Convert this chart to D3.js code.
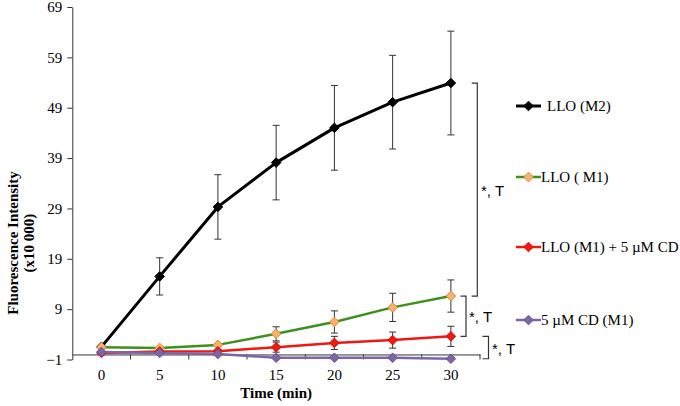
<!DOCTYPE html>
<html>
<head>
<meta charset="utf-8">
<script src="https://cdn.jsdelivr.net/npm/d3@7"></script>
<style>
  body { margin: 0; background: #fff; }
  svg { display: block; }
</style>
</head>
<body>
<div id="chart"></div>
<script>
// values (x10 000)
var times = [0, 5, 10, 15, 20, 25, 30];
var yTicks = [-1, 9, 19, 29, 39, 49, 59, 69];
var lloM2 = [1.5, 15.5, 29.3, 38.1, 45.0, 50.1, 53.9];
var lloM2Err = [0, 3.7, 6.4, 7.4, 8.4, 9.3, 10.3];
var lloM1 = [1.45, 1.3, 1.9, 4.1, 6.45, 9.35, 11.6];
var lloM1Err = [0.2, 0.2, 0.2, 1.4, 2.2, 2.8, 3.2];
var lloM1Cd = [0.3, 0.6, 0.65, 1.45, 2.3, 2.85, 3.6];
var lloM1CdErr = [0.2, 0.2, 0.3, 1.0, 1.3, 1.6, 2.0];
var cdM1 = [0.5, 0.3, 0.1, -0.65, -0.65, -0.65, -0.85];
var cdM1Err = [0.1, 0.1, 0.1, 0.1, 0.1, 0.1, 0.1];
var seriesNames = ["LLO (M2)", "LLO ( M1)", "LLO (M1) + 5 \u00b5M CD", "5 \u00b5M CD (M1)"];
var bracketLabel = "*, T";

var width = 680, height = 406;
var plotLeft = 72.3, plotRight = 480, plotTop = 7, plotBottom = 359.5;

var svg = d3.select("#chart")
  .append("svg")
    .attr("width", width)
    .attr("height", height);

var x = d3.scaleBand()
  .domain(times)
  .range([plotLeft, plotRight])
  .paddingInner(0)
  .paddingOuter(0);

var y = d3.scaleLinear()
  .domain([-1, 69])
  .range([plotBottom, plotTop]);

var serif = "'Liberation Serif', 'Times New Roman', serif";
var sans = "'Liberation Sans', Arial, sans-serif";

// y axis
var yAxis = svg.append("g")
  .attr("transform", "translate(" + plotLeft + ",0)")
  .call(d3.axisLeft(y).tickValues(yTicks).tickSize(5).tickPadding(5).tickSizeOuter(0));
yAxis.select(".domain").attr("stroke", "#333");
yAxis.selectAll(".tick line").attr("stroke", "#333");
yAxis.selectAll("text")
  .style("font-family", serif)
  .style("font-size", "15px")
  .attr("fill", "#000");

// x axis crossing at 0
var xAxis = svg.append("g")
  .attr("transform", "translate(0," + y(0) + ")")
  .call(d3.axisBottom(x).tickSize(0).tickPadding(15).tickSizeOuter(0));
xAxis.select(".domain").attr("stroke", "#333");
xAxis.selectAll("text")
  .style("font-family", serif)
  .style("font-size", "15px")
  .attr("fill", "#000");

// tick marks between categories
var bounds = times.slice(1).map(function(t) { return x(t); }).concat([plotRight]);
xAxis.selectAll(".between")
  .data(bounds)
  .enter().append("line")
    .attr("x1", function(d) { return d; })
    .attr("x2", function(d) { return d; })
    .attr("y1", 0)
    .attr("y2", 5)
    .attr("stroke", "#333");

// axis titles
var yTitle = svg.append("text")
  .attr("transform", "translate(13," + 243 + ") rotate(-90)")
  .style("text-anchor", "middle")
  .style("font-family", serif)
  .style("font-size", "15px")
  .style("font-weight", "bold");
yTitle.append("tspan").attr("x", 0).attr("dy", "0.35em").text("Fluorescence Intensity");
yTitle.append("tspan").attr("x", 0).attr("dy", "1.05em").text("(x10 000)");

svg.append("text")
  .attr("x", (plotLeft + plotRight) / 2)
  .attr("y", 398)
  .style("text-anchor", "middle")
  .style("font-family", serif)
  .style("font-size", "15px")
  .style("font-weight", "bold")
  .text("Time (min)");

function cx(i) { return x(times[i]) + x.bandwidth() / 2; }

function diamond(r) {
  return "M0," + (-r) + "L" + r + ",0L0," + r + "L" + (-r) + ",0Z";
}

var series = [
  {name: seriesNames[0], values: lloM2, err: lloM2Err, line: "#000", width: 3, fill: "#000", stroke: "#000"},
  {name: seriesNames[1], values: lloM1, err: lloM1Err, line: "#3f8f1f", width: 2.5, fill: "#f7b36e", stroke: "#e0862a"},
  {name: seriesNames[2], values: lloM1Cd, err: lloM1CdErr, line: "#ee1a12", width: 2.5, fill: "#ee1a12", stroke: "#d81008"},
  {name: seriesNames[3], values: cdM1, err: cdM1Err, line: "#7d66a8", width: 2.5, fill: "#7d66a8", stroke: "#6a5494"}
];

var line = d3.line()
  .x(function(d, i) { return cx(i); })
  .y(function(d) { return y(d); });

series.forEach(function(s) {
  var g = svg.append("g");
  g.append("path")
    .datum(s.values)
    .attr("fill", "none")
    .attr("stroke", s.line)
    .attr("stroke-width", s.width)
    .attr("stroke-linejoin", "round")
    .attr("d", line);

  var eb = g.selectAll(".err")
    .data(s.values)
    .enter().append("g")
      .attr("stroke", "#333")
      .attr("stroke-width", 1);
  eb.append("line")
    .attr("x1", function(d, i) { return cx(i); })
    .attr("x2", function(d, i) { return cx(i); })
    .attr("y1", function(d, i) { return y(d + s.err[i]); })
    .attr("y2", function(d, i) { return y(d - s.err[i]); });
  eb.append("line")
    .attr("x1", function(d, i) { return cx(i) - 3.5; })
    .attr("x2", function(d, i) { return cx(i) + 3.5; })
    .attr("y1", function(d, i) { return y(d + s.err[i]); })
    .attr("y2", function(d, i) { return y(d + s.err[i]); });
  eb.append("line")
    .attr("x1", function(d, i) { return cx(i) - 3.5; })
    .attr("x2", function(d, i) { return cx(i) + 3.5; })
    .attr("y1", function(d, i) { return y(d - s.err[i]); })
    .attr("y2", function(d, i) { return y(d - s.err[i]); });

  g.selectAll(".pt")
    .data(s.values)
    .enter().append("path")
      .attr("transform", function(d, i) { return "translate(" + cx(i) + "," + y(d) + ")"; })
      .attr("d", diamond(4.8))
      .attr("fill", s.fill)
      .attr("stroke", s.stroke)
      .attr("stroke-width", 1);
});

// significance brackets between the 30 min values
var last = times.length - 1;
var brackets = [
  {from: lloM2[last], to: lloM1[last], bx: 477.3, arm: 5.6, tx: 481},
  {from: lloM1[last], to: lloM1Cd[last], bx: 466, arm: 5.5, tx: 469},
  {from: lloM1Cd[last], to: cdM1[last], bx: 488.5, arm: 6, tx: 492}
];
brackets.forEach(function(b) {
  var y1 = y(b.from), y2 = y(b.to);
  svg.append("path")
    .attr("fill", "none")
    .attr("stroke", "#333")
    .attr("stroke-width", 1.2)
    .attr("d", "M" + (b.bx - b.arm) + "," + y1 + "H" + b.bx + "V" + y2 + "H" + (b.bx - b.arm));
  svg.append("text")
    .attr("x", b.tx)
    .attr("y", (y1 + y2) / 2)
    .attr("dy", "0.4em")
    .style("font-family", sans)
    .style("font-size", "15px")
    .text(bracketLabel);
});

// legend
var legendY = [106, 177, 247, 320];
var legendTextX = [547, 541, 541, 541];
var legend = svg.selectAll(".legend")
  .data(series)
  .enter().append("g")
    .attr("transform", function(d, i) { return "translate(0," + legendY[i] + ")"; });
legend.append("line")
  .attr("x1", 516).attr("x2", 541)
  .attr("stroke", function(d) { return d.line; })
  .attr("stroke-width", function(d) { return d.width; });
legend.append("path")
  .attr("transform", "translate(528.5,0)")
  .attr("d", diamond(4.8))
  .attr("fill", function(d) { return d.fill; })
  .attr("stroke", function(d) { return d.stroke; });
legend.append("text")
  .attr("x", function(d, i) { return legendTextX[i]; })
  .attr("dy", "0.35em")
  .style("font-family", serif)
  .style("font-size", "15px")
  .text(function(d) { return d.name; });
</script>
</body>
</html>
